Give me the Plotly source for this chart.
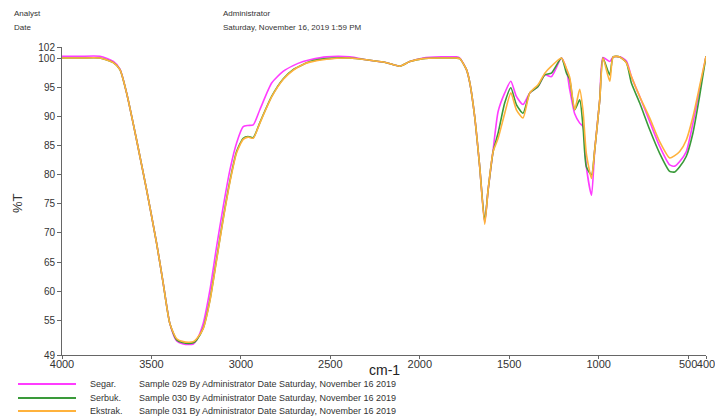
import plotly.graph_objects as go

# Wavenumbers (cm-1)
wavenumber = [4000, 3900, 3788, 3713, 3676, 3639, 3583, 3527, 3471, 3434, 3397, 3359, 3322, 3290, 3266,
              3247, 3211, 3173, 3136, 3099, 3061, 3024, 2987, 2960, 2931, 2894, 2828, 2764, 2708, 2652,
              2614, 2521, 2391, 2298, 2186, 2112, 2056, 1981, 1880, 1795, 1776, 1739, 1720, 1693, 1665,
              1637, 1618, 1590, 1562, 1525, 1491, 1460, 1423, 1385, 1339, 1301, 1264, 1208, 1180, 1162,
              1134, 1106, 1087, 1069, 1040, 1022, 994, 976, 938, 919, 882, 845, 817, 771, 715,
              659, 603, 575, 547, 510, 473, 436, 400]

segar = [100.4, 100.4, 100.4, 99.5, 98.2, 94.1, 86.0, 77.4, 68.2, 61.3, 54.4, 51.4, 50.9, 50.8, 50.9,
         51.6, 54.4, 60.2, 67.6, 74.5, 80.9, 85.5, 88.3, 88.5, 88.6, 91.2, 95.8, 97.8, 98.8, 99.5,
         99.8, 100.3, 100.3, 99.8, 99.3, 98.7, 99.5, 100.1, 100.3, 100.3, 100.1, 98.1, 95.8, 90.0, 81.4,
         71.8, 77.4, 84.3, 90.9, 94.1, 96.1, 93.5, 92.1, 94.1, 95.2, 97.2, 96.9, 100.1, 98.1, 94.7,
         90.5, 88.9, 88.3, 81.4, 76.5, 84.3, 92.9, 100.2, 99.5, 100.3, 100.3, 99.6, 96.9, 93.5, 89.2,
         84.9, 81.7, 81.5, 82.3, 84.0, 88.9, 94.7, 100.4]

serbuk = [100.1, 100.1, 100.1, 99.3, 98.1, 94.1, 86.0, 77.4, 68.2, 61.3, 54.4, 51.6, 51.1, 51.0, 51.1,
          51.6, 53.6, 58.5, 65.5, 72.5, 79.0, 84.0, 86.3, 86.6, 86.4, 89.0, 93.5, 96.5, 98.1, 99.0,
          99.5, 100.0, 100.1, 99.8, 99.3, 98.7, 99.5, 100.0, 100.1, 100.1, 100.0, 98.1, 95.8, 90.0, 81.4,
          72.0, 77.4, 84.0, 87.2, 92.4, 95.0, 92.1, 90.6, 94.1, 95.2, 97.2, 97.5, 100.1, 97.5, 96.4,
          91.2, 92.9, 88.1, 81.4, 80.0, 84.3, 92.9, 100.1, 97.2, 100.3, 100.3, 99.3, 95.8, 92.4, 87.8,
          83.7, 80.6, 80.5, 81.4, 83.2, 87.2, 93.5, 100.4]

ekstrak = [100.1, 100.1, 100.1, 99.3, 98.1, 94.1, 86.0, 77.4, 68.2, 61.3, 54.4, 51.8, 51.3, 51.2, 51.3,
           51.8, 53.5, 58.3, 65.3, 72.3, 78.8, 83.8, 86.1, 86.5, 86.3, 88.9, 93.4, 96.4, 98.0, 99.0,
           99.4, 99.9, 100.1, 99.8, 99.3, 98.7, 99.5, 100.0, 100.1, 100.1, 100.0, 98.1, 95.8, 90.0, 81.4,
           71.5, 77.4, 84.0, 86.3, 90.6, 94.1, 91.2, 89.8, 94.1, 95.5, 97.5, 98.7, 100.1, 98.3, 96.8,
           91.2, 94.7, 90.9, 83.7, 79.4, 84.3, 92.9, 100.1, 96.1, 100.3, 100.3, 99.3, 96.9, 93.5, 89.8,
           85.7, 82.9, 83.3, 84.0, 86.0, 90.0, 95.2, 100.4]

series_names = ["Segar.", "Serbuk.", "Ekstrak."]
series_desc = ["Sample 029 By Administrator Date Saturday, November 16 2019",
               "Sample 030 By Administrator Date Saturday, November 16 2019",
               "Sample 031 By Administrator Date Saturday, November 16 2019"]
series_colors = ["#ff3cff", "#3a9a3a", "#ffb23c"]

x_ticks = [4000, 3500, 3000, 2500, 2000, 1500, 1000, 500, 400]
y_ticks = [49, 55, 60, 65, 70, 75, 80, 85, 90, 95, 100, 102]

W, H = 715, 418
L, R, T, B = 62, 706, 47, 355

def px(x):
    return (x - L) / (R - L)

def py(y):
    return (B - y) / (B - T)

fig = go.Figure()
for name, ys, col in zip(series_names, [segar, serbuk, ekstrak], series_colors):
    fig.add_trace(go.Scatter(x=wavenumber, y=ys, mode="lines", name=name,
                             line=dict(color=col, width=1.6, shape="spline", smoothing=0.6),
                             showlegend=False))

font = "Arial, Liberation Sans, sans-serif"
fig.update_layout(
    width=W, height=H,
    margin=dict(l=L, r=W - R, t=T, b=H - B, pad=0, autoexpand=False),
    paper_bgcolor="white", plot_bgcolor="white",
    font=dict(family=font, color="#333333"),
    xaxis=dict(range=[4000, 400], tickmode="array", tickvals=x_ticks,
               ticktext=[str(v) for v in x_ticks], ticks="outside", ticklen=3,
               tickcolor="#666", showline=True, linecolor="#666", linewidth=1,
               showgrid=False, zeroline=False, tickfont=dict(size=11, color="#333"),
               ticklabeloverflow="allow", tickangle=0, ticklabelstandoff=-4),
    yaxis=dict(range=[49, 102], tickmode="array", tickvals=y_ticks,
               ticktext=[str(v) for v in y_ticks], ticks="outside", ticklen=4,
               tickcolor="#666", showline=True, linecolor="#666", linewidth=1,
               showgrid=False, zeroline=False, tickfont=dict(size=10, color="#333"),
               ticklabeloverflow="allow", tickangle=0),
)

ann = []
# header
ann.append(dict(text="Analyst", x=px(12), y=py(14), xanchor="left", yanchor="middle", font=dict(size=8, color="#333")))
ann.append(dict(text="Date", x=px(12), y=py(27), xanchor="left", yanchor="middle", font=dict(size=8, color="#333")))
ann.append(dict(text="Administrator", x=px(221), y=py(14), xanchor="left", yanchor="middle", font=dict(size=8, color="#333")))
ann.append(dict(text="Saturday, November 16, 2019 1:59 PM", x=px(221), y=py(27), xanchor="left", yanchor="middle", font=dict(size=8, color="#333")))
# axis titles
ann.append(dict(text="cm-1", x=px(384), y=py(370), xanchor="center", yanchor="middle", font=dict(size=14, color="#222")))
ann.append(dict(text="%T", x=px(17), y=py(203), xanchor="center", yanchor="middle", textangle=-90, font=dict(size=13, color="#333")))

shapes = []
rows = [384, 398, 411]
for name, desc, col, yy in zip(series_names, series_desc, series_colors, rows):
    shapes.append(dict(type="line", xref="paper", yref="paper", x0=px(18), x1=px(76), y0=py(yy), y1=py(yy),
                       line=dict(color=col, width=2)))
    ann.append(dict(text=name, x=px(88), y=py(yy), xanchor="left", yanchor="middle", font=dict(size=9, color="#333")))
    ann.append(dict(text=desc, x=px(137), y=py(yy), xanchor="left", yanchor="middle", font=dict(size=9, color="#333")))

for a in ann:
    a.update(xref="paper", yref="paper", showarrow=False)
fig.update_layout(annotations=ann, shapes=shapes)

fig.write_html("out.html", config={"displayModeBar": False},
               post_script="document.body.style.margin='0';document.body.style.overflow='hidden';")
